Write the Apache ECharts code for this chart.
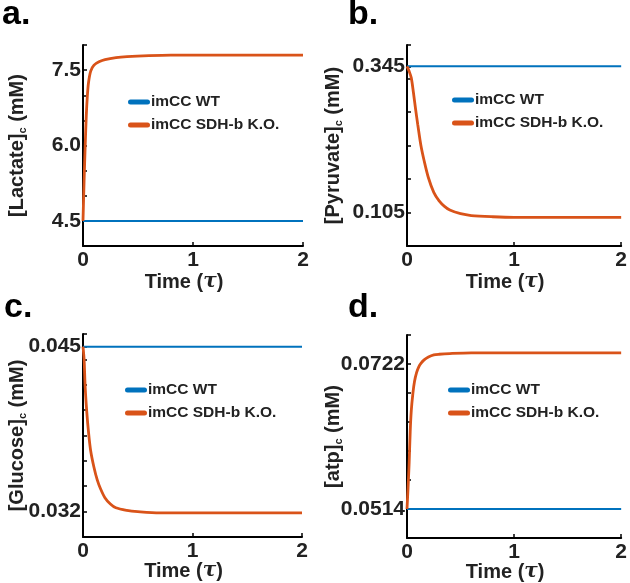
<!DOCTYPE html>
<html>
<head>
<meta charset="utf-8">
<script src="https://cdn.jsdelivr.net/npm/echarts@6/dist/echarts.min.js"></script>
<style>
html,body{margin:0;padding:0;background:#fff;}
#c{width:630px;height:583px;}
</style>
</head>
<body>
<div id="c"></div>
<script>
// ---------- data ----------
var seriesNames = ['imCC WT', 'imCC SDH-b K.O.'];
var panelLetters = ['a.', 'b.', 'c.', 'd.'];
var yNames = ['[Lactate]{sub|c} (mM)', '[Pyruvate]{sub|c} (mM)', '[Glucose]{sub|c} (mM)', '[atp]{sub|c} (mM)'];

var timeWT = [0, 2];

// a. Lactate
var lactWT = [4.5, 4.5];
var timeLactKO = [0, 0.01, 0.02, 0.03, 0.04, 0.05, 0.07, 0.1, 0.15, 0.2, 0.3, 0.4, 0.6, 0.8, 1.0, 1.5, 2.0];
var lactKO = [4.5, 5.3, 6.0, 6.6, 7.0, 7.25, 7.48, 7.6, 7.67, 7.71, 7.75, 7.77, 7.79, 7.8, 7.8, 7.8, 7.8];
var lactRange = [4, 8];
var lactTicks = [4, 4.5, 5, 5.5, 6, 6.5, 7, 7.5, 8];
var lactLabels = [4.5, 6.0, 7.5];

// b. Pyruvate
var pyrWT = [0.345, 0.345];
var timePyrKO = [0, 0.02, 0.04, 0.06, 0.08, 0.1, 0.13, 0.16, 0.2, 0.25, 0.3, 0.35, 0.4, 0.5, 0.6, 0.8, 1.0, 1.5, 2.0];
var pyrKO = [0.345, 0.337, 0.326, 0.302, 0.275, 0.25, 0.215, 0.19, 0.162, 0.138, 0.124, 0.115, 0.109, 0.103, 0.1, 0.098, 0.097, 0.097, 0.097];
var pyrRange = [0.05, 0.38];
var pyrTicks = [0.05, 0.105, 0.16, 0.215, 0.27, 0.325, 0.345, 0.38];
var pyrLabels = [0.105, 0.345];

// c. Glucose
var gluWT = [0.045, 0.045];
var timeGluKO = [0, 0.01, 0.02, 0.035, 0.05, 0.07, 0.1, 0.13, 0.16, 0.2, 0.25, 0.3, 0.4, 0.5, 0.7, 1.0, 1.5, 2.0];
var gluKO = [0.045, 0.044, 0.0418, 0.0398, 0.0383, 0.0368, 0.0355, 0.0345, 0.0338, 0.0331, 0.0326, 0.0323, 0.0321, 0.032, 0.0319, 0.0319, 0.0319, 0.0319];
var gluRange = [0.030, 0.046];
var gluTicks = [0.030, 0.032, 0.034, 0.036, 0.038, 0.040, 0.042, 0.044, 0.045, 0.046];
var gluLabels = [0.032, 0.045];

// d. ATP
var atpWT = [0.0514, 0.0514];
var timeAtpKO = [0, 0.01, 0.02, 0.03, 0.04, 0.055, 0.07, 0.09, 0.11, 0.13, 0.16, 0.2, 0.25, 0.3, 0.4, 0.6, 1.0, 2.0];
var atpKO = [0.0514, 0.0545, 0.058, 0.0625, 0.0655, 0.068, 0.0697, 0.071, 0.0718, 0.0723, 0.0728, 0.0732, 0.0735, 0.0736, 0.0737, 0.0738, 0.0738, 0.0738];
var atpRange = [0.04724, 0.07636];
var atpTicks = [0.04724, 0.0514, 0.05556, 0.05972, 0.06388, 0.06804, 0.0722, 0.07636];
var atpLabels = [0.0514, 0.0722];

var xTickLabels = [0, 1, 2];

// ---------- chart ----------
var FONT = '"Liberation Sans", Arial, Helvetica, sans-serif';
var BLUE = '#0072BD', ORANGE = '#D95319';

function pairs(t, v) { return t.map(function (x, i) { return [x, v[i]]; }); }

var panels = [
  { tWT: timeWT, wt: lactWT, tKO: timeLactKO, ko: lactKO, range: lactRange, ticks: lactTicks, labels: lactLabels, dec: 1 },
  { tWT: timeWT, wt: pyrWT, tKO: timePyrKO, ko: pyrKO, range: pyrRange, ticks: pyrTicks, labels: pyrLabels, dec: 3 },
  { tWT: timeWT, wt: gluWT, tKO: timeGluKO, ko: gluKO, range: gluRange, ticks: gluTicks, labels: gluLabels, dec: 3 },
  { tWT: timeWT, wt: atpWT, tKO: timeAtpKO, ko: atpKO, range: atpRange, ticks: atpTicks, labels: atpLabels, dec: 4 }
];

var grids = [
  { left: 83, top: 45, width: 220, height: 201 },
  { left: 407, top: 45, width: 220, height: 201 },
  { left: 83, top: 334, width: 219, height: 203 },
  { left: 407, top: 335, width: 216, height: 204 }
];
var yGaps = [55, 63, 55, 63];
var xGaps = [26, 26, 24, 24];
var legendPos = [[128, 94], [452, 92], [125, 382], [448, 382]];
var titlePos = [[2, -2], [348, -2], [4, 291], [348, 291]];

var option = {
  animation: false,
  backgroundColor: '#fff',
  title: [], grid: [], xAxis: [], yAxis: [], series: [], legend: []
};

panels.forEach(function (p, i) {
  option.title.push({
    text: panelLetters[i], left: titlePos[i][0], top: titlePos[i][1], padding: 0,
    textStyle: { fontFamily: FONT, fontSize: 34, fontWeight: 'bold', color: '#000' }
  });
  option.grid.push(Object.assign({ containLabel: false }, grids[i]));
  option.xAxis.push({
    type: 'value', gridIndex: i, min: 0, max: 2, interval: 1,
    name: 'Time ({tau|τ})', nameLocation: 'middle', nameGap: xGaps[i], nameMoveOverlap: false,
    nameTextStyle: {
      fontFamily: FONT, fontSize: 20, fontWeight: 'bold', color: '#222', padding: [0, 18, 0, 0],
      rich: { tau: { fontFamily: '"DejaVu Serif", serif', fontStyle: 'italic', fontSize: 20, color: '#222' } }
    },
    axisLine: { show: true, onZero: false, lineStyle: { color: '#000', width: 2 } },
    axisTick: { show: true, inside: true, length: 4, lineStyle: { color: '#000', width: 1.5 } },
    axisLabel: {
      fontFamily: FONT, fontSize: 21, fontWeight: 'bold', color: '#222', margin: 4,
      customValues: xTickLabels
    },
    splitLine: { show: false }
  });
  option.yAxis.push({
    type: 'value', gridIndex: i, min: p.range[0], max: p.range[1],
    name: yNames[i], nameLocation: 'middle', nameGap: yGaps[i], nameRotate: 90, nameMoveOverlap: false,
    nameTextStyle: {
      fontFamily: FONT, fontSize: 20, fontWeight: 'bold', color: '#222', lineHeight: 22,
      rich: { sub: { fontFamily: FONT, fontSize: 11, fontWeight: 'bold', color: '#222', verticalAlign: 'bottom', lineHeight: 14 } }
    },
    axisLine: { show: true, onZero: false, lineStyle: { color: '#000', width: 2 } },
    axisTick: { show: true, inside: true, length: 4, lineStyle: { color: '#000', width: 1.5 }, customValues: p.ticks },
    axisLabel: {
      fontFamily: FONT, fontSize: 21, fontWeight: 'bold', color: '#222', margin: 2,
      customValues: p.labels,
      formatter: (function (d) { return function (v) { return Number(v).toFixed(d); }; })(p.dec)
    },
    splitLine: { show: false }
  });
  option.series.push({
    name: seriesNames[0], type: 'line', xAxisIndex: i, yAxisIndex: i,
    data: pairs(p.tWT, p.wt), showSymbol: false, symbol: 'none',
    lineStyle: { color: BLUE, width: 2 }, itemStyle: { color: BLUE }
  });
  option.series.push({
    name: seriesNames[1], type: 'line', xAxisIndex: i, yAxisIndex: i,
    data: pairs(p.tKO, p.ko), showSymbol: false, symbol: 'none', smooth: 0.3,
    lineStyle: { color: ORANGE, width: 2.8 }, itemStyle: { color: ORANGE }
  });
  option.legend.push({
    orient: 'vertical', left: legendPos[i][0], top: legendPos[i][1], padding: 0,
    itemWidth: 22, itemHeight: 5, itemGap: 7, selectedMode: false,
    icon: 'path://M2.5,0 L19.5,0 A2.5,2.5 0 0 1 19.5,5 L2.5,5 A2.5,2.5 0 0 1 2.5,0 Z',
    data: seriesNames,
    textStyle: { fontFamily: FONT, fontSize: 15.5, fontWeight: 'bold', color: '#222', lineHeight: 16, padding: [0, 0, 0, -4] }
  });
});

var chart = echarts.init(document.getElementById('c'), null, { renderer: 'canvas' });
chart.setOption(option);
</script>
</body>
</html>
